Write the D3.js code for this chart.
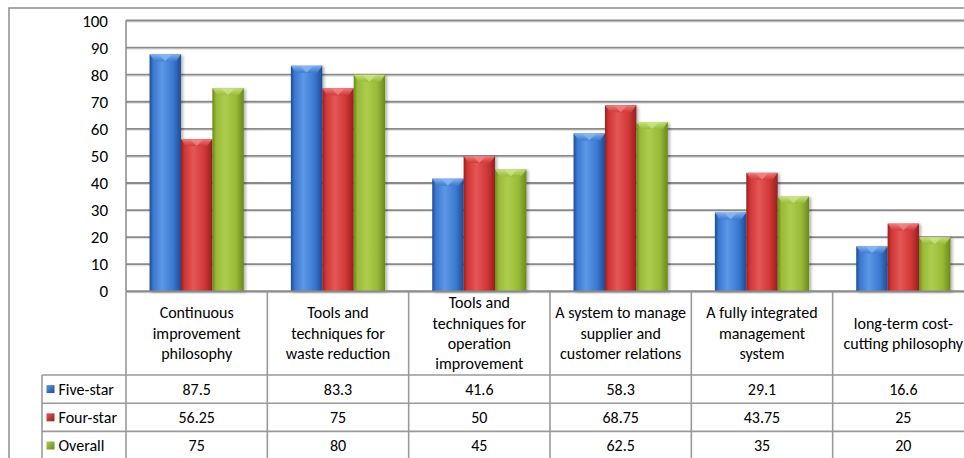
<!DOCTYPE html>
<html>
<head>
<meta charset="utf-8">
<script src="https://cdn.jsdelivr.net/npm/d3@7"></script>
<style>
  html, body { margin: 0; padding: 0; background: #fff; }
  svg { display: block; font-family: Carlito, Calibri, Lato, "Open Sans", sans-serif; }
</style>
</head>
<body>
<svg id="chart" width="964" height="458"></svg>
<script>
// ---- data ----
const categories = [
  "Continuous\nimprovement\nphilosophy",
  "Tools and\ntechniques for\nwaste reduction",
  "Tools and\ntechniques for\noperation\nimprovement",
  "A system to manage\nsupplier and\ncustomer relations",
  "A fully integrated\nmanagement\nsystem",
  "long-term cost-\ncutting philosophy"
];
const seriesNames = ["Five-star", "Four-star", "Overall"];
const fiveStar = [87.5, 83.3, 41.6, 58.3, 29.1, 16.6];
const fourStar = [56.25, 75, 50, 68.75, 43.75, 25];
const overall = [75, 80, 45, 62.5, 35, 20];
const yTicks = [0, 10, 20, 30, 40, 50, 60, 70, 80, 90, 100];

const seriesValues = [fiveStar, fourStar, overall];
const colors = [
  { mid: "#3b78d0", dark: "#1f4c94", light: "#5d97e6", cap: "#8dbaf2" },
  { mid: "#d23636", dark: "#962020", light: "#e45656", cap: "#f08a8a" },
  { mid: "#98ba36", dark: "#6a881d", light: "#aecd4f", cap: "#cfe68a" }
];

const svg = d3.select("#chart");
const plotLeft = 126, plotRight = 974, plotTop = 20.5, plotBottom = 291.3;
const rowH = 28.2;
const headerBottom = 375;

const x0 = d3.scaleBand().domain(d3.range(categories.length)).range([plotLeft, plotRight]).paddingInner(0).paddingOuter(0);
const x1 = d3.scaleBand().domain(d3.range(seriesNames.length)).range([0, x0.bandwidth()]).paddingInner(0).paddingOuter(0.75);
const y = d3.scaleLinear().domain([0, 100]).range([plotBottom, plotTop]);

// defs
const defs = svg.append("defs");
colors.forEach((c, i) => {
  const g = defs.append("linearGradient").attr("id", "bar" + i).attr("x1", "0").attr("x2", "1").attr("y1", "0").attr("y2", "0");
  g.append("stop").attr("offset", "0%").attr("stop-color", c.dark);
  g.append("stop").attr("offset", "12%").attr("stop-color", c.mid);
  g.append("stop").attr("offset", "40%").attr("stop-color", c.light);
  g.append("stop").attr("offset", "75%").attr("stop-color", c.mid);
  g.append("stop").attr("offset", "100%").attr("stop-color", c.dark);
  const k = defs.append("linearGradient").attr("id", "key" + i).attr("x1", "0").attr("x2", "1").attr("y1", "0").attr("y2", "1");
  k.append("stop").attr("offset", "0%").attr("stop-color", c.light);
  k.append("stop").attr("offset", "100%").attr("stop-color", c.dark);
  const cg = defs.append("linearGradient").attr("id", "cap" + i).attr("x1", "0").attr("x2", "0").attr("y1", "0").attr("y2", "1");
  cg.append("stop").attr("offset", "0%").attr("stop-color", c.cap);
  cg.append("stop").attr("offset", "100%").attr("stop-color", c.mid);
});
const f = defs.append("filter").attr("id", "shadow").attr("x", "-20%").attr("y", "-10%").attr("width", "150%").attr("height", "130%");
f.append("feDropShadow").attr("dx", 2).attr("dy", 1).attr("stdDeviation", 1.5).attr("flood-color", "#000").attr("flood-opacity", 0.3);

// outer border
svg.append("rect").attr("x", 9).attr("y", 8).attr("width", 1000).attr("height", 500)
  .attr("fill", "none").attr("stroke", "#8c8c8c").attr("stroke-width", 1.5);

// gridlines
const grid = svg.append("g");
yTicks.forEach(t => {
  grid.append("line").attr("x1", plotLeft).attr("x2", plotRight).attr("y1", y(t) + 1.5).attr("y2", y(t) + 1.5)
    .attr("stroke", "#dcdcdc").attr("stroke-width", 1);
  grid.append("line").attr("x1", plotLeft).attr("x2", plotRight).attr("y1", y(t)).attr("y2", y(t))
    .attr("stroke", "#8a8a8a").attr("stroke-width", 1.8);
});
// y axis line
svg.append("line").attr("x1", plotLeft).attr("x2", plotLeft).attr("y1", plotTop).attr("y2", plotBottom)
  .attr("stroke", "#8a8a8a").attr("stroke-width", 1.5);

// y tick labels
svg.append("g").selectAll("text").data(yTicks).join("text")
  .attr("x", 108).attr("y", d => y(d)).attr("dy", "0.36em")
  .attr("text-anchor", "end").attr("font-size", 17).attr("fill", "#000")
  .text(d => d);

// bars
const bars = svg.append("g");
categories.forEach((cat, ci) => {
  seriesValues.forEach((vals, si) => {
    const bx = x0(ci) + x1(si);
    const bw = x1.bandwidth();
    const by = y(vals[ci]);
    const bh = plotBottom - by;
    const g = bars.append("g").attr("filter", "url(#shadow)");
    g.append("rect").attr("x", bx).attr("y", by).attr("width", bw).attr("height", bh)
      .attr("fill", `url(#bar${si})`);
    // top bevel
    const capH = Math.min(7, bh);
    g.append("path")
      .attr("d", `M${bx},${by} L${bx + bw},${by} L${bx + bw - 5},${by + capH} L${bx + 5},${by + capH} Z`)
      .attr("fill", `url(#cap${si})`).attr("opacity", 0.85);
    g.append("path")
      .attr("d", `M${bx + bw * 0.3},${by + 0.5} L${bx + bw * 0.7},${by + 0.5} L${bx + bw * 0.5},${by + capH} Z`)
      .attr("fill", colors[si].cap).attr("opacity", 0.7);
  });
});

// table lines
const tableBottom = 470;
const tbl = svg.append("g").attr("stroke", "#9a9a9a").attr("stroke-width", 1.6);
d3.range(categories.length + 1).forEach(i => {
  const xx = i < categories.length ? x0(i) : plotRight;
  tbl.append("line").attr("x1", xx).attr("x2", xx).attr("y1", plotBottom).attr("y2", tableBottom);
});
[0, 1, 2, 3].forEach(r => {
  const yy = headerBottom + r * rowH;
  tbl.append("line").attr("x1", 42).attr("x2", plotRight).attr("y1", yy).attr("y2", yy);
});
tbl.append("line").attr("x1", 42).attr("x2", 42).attr("y1", headerBottom).attr("y2", tableBottom);
svg.append("line").attr("x1", plotLeft).attr("x2", plotRight).attr("y1", plotBottom).attr("y2", plotBottom)
  .attr("stroke", "#8a8a8a").attr("stroke-width", 1.8);

// category labels
const headMid = (plotBottom + headerBottom) / 2;
const lh = 20.3;
const fs = 16;
categories.forEach((cat, ci) => {
  const lines = cat.split("\n");
  const cx = x0(ci) + x0.bandwidth() / 2;
  const t = svg.append("text").attr("text-anchor", "middle").attr("font-size", fs).attr("fill", "#000");
  lines.forEach((ln, li) => {
    t.append("tspan").attr("x", cx).attr("y", headMid + (li - (lines.length - 1) / 2) * lh).attr("dy", "0.35em").text(ln);
  });
});

// rows
seriesNames.forEach((name, si) => {
  const cy = headerBottom + si * rowH + rowH / 2;
  svg.append("rect").attr("x", 46.5).attr("y", cy - 4).attr("width", 8).attr("height", 8).attr("fill", `url(#key${si})`);
  svg.append("text").attr("x", 58.5).attr("y", cy).attr("dy", "0.35em").attr("font-size", fs).attr("fill", "#000").text(name);
  seriesValues[si].forEach((v, ci) => {
    svg.append("text").attr("x", x0(ci) + x0.bandwidth() / 2).attr("y", cy).attr("dy", "0.35em")
      .attr("text-anchor", "middle").attr("font-size", fs).attr("fill", "#000").text(String(v));
  });
});
</script>
</body>
</html>
